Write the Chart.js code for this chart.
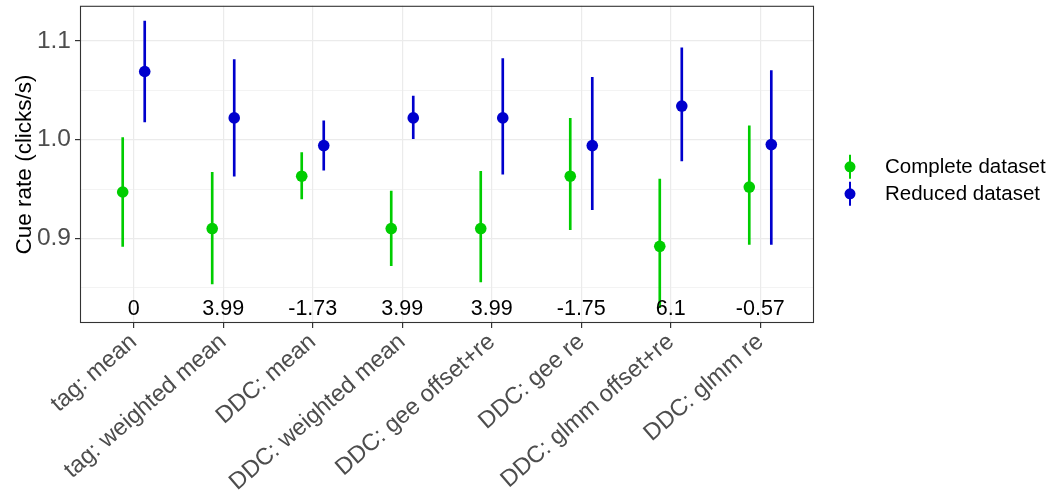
<!DOCTYPE html>
<html><head><meta charset="utf-8">
<script src="https://cdn.jsdelivr.net/npm/chart.js@4/dist/chart.umd.min.js"></script>
<style>html,body{margin:0;padding:0;background:#fff}#wrap{width:1058px;height:490px}</style>
</head><body><div id="wrap"><canvas id="c" width="1058" height="490"></canvas></div>
<script>
const categories = ["tag: mean","tag: weighted mean","DDC: mean","DDC: weighted mean","DDC: gee offset+re","DDC: gee re","DDC: glmm offset+re","DDC: glmm re"];
const diffLabels = ["0","3.99","-1.73","3.99","3.99","-1.75","6.1","-0.57"];
const seriesNames = ["Complete dataset","Reduced dataset"];
const completeMean = [0.947,0.910,0.963,0.910,0.910,0.963,0.892,0.952];
const completeLow  = [0.892,0.854,0.940,0.8725,0.856,0.909,0.830,0.894];
const completeHigh = [1.002,0.967,0.987,0.948,0.968,1.0215,0.960,1.014];
const reducedMean  = [1.069,1.022,0.994,1.022,1.022,0.994,1.034,0.995];
const reducedLow   = [1.018,0.963,0.969,1.001,0.965,0.929,0.9785,0.894];
const reducedHigh  = [1.120,1.081,1.019,1.044,1.082,1.063,1.093,1.070];
const yMajorTicks = [0.9,1.0,1.1];
const yMinorTicks = [0.85,0.95,1.05];
const yTickLabels = ["0.9","1.0","1.1"];
const labelY = 0.828;
const yMin = 0.8144, yMax = 1.1355;
const xMin = -0.6, xMax = 7.6;
const dodge = 0.123;

const GREEN = '#00CD00', BLUE = '#0000CD';
const FONT = '"Liberation Sans", Arial, Helvetica, sans-serif';

function errData(lo, hi, off){ return categories.map((c,i)=>({x:i+off, y:[lo[i],hi[i]]})); }
function ptData(m, off){ return categories.map((c,i)=>({x:i+off, y:m[i]})); }
function noPad(s){ s.paddingTop = 0; s.paddingBottom = 0; s.paddingLeft = 0; s.paddingRight = 0; }

const overlay = {
  id:'overlay',
  afterDatasetsDraw(chart){
    const {ctx, chartArea:a, scales:{x,y}} = chart;
    ctx.save();
    ctx.font = '21.5px ' + FONT;
    ctx.fillStyle = '#000'; ctx.textAlign = 'center'; ctx.textBaseline = 'middle';
    diffLabels.forEach((t,i)=>ctx.fillText(t, x.getPixelForValue(i), y.getPixelForValue(labelY)));
    ctx.strokeStyle = '#333333'; ctx.lineWidth = 1.1;
    ctx.strokeRect(a.left+0.5, a.top+0.5, a.width-1, a.height-1);
    // legend
    const items = [{t:seriesNames[0], c:GREEN},{t:seriesNames[1], c:BLUE}];
    ctx.font = '20.5px ' + FONT; ctx.textAlign = 'left';
    items.forEach((it,k)=>{
      const cy = a.top + 161 + k*27, gx = a.right + 36;
      ctx.strokeStyle = it.c; ctx.lineWidth = 2;
      ctx.beginPath(); ctx.moveTo(gx, cy-12); ctx.lineTo(gx, cy+12); ctx.stroke();
      ctx.fillStyle = it.c; ctx.beginPath(); ctx.arc(gx, cy, 5.5, 0, Math.PI*2); ctx.fill();
      ctx.fillStyle = '#000'; ctx.fillText(it.t, a.right + 71, cy+1);
    });
    ctx.restore();
  }
};

new Chart(document.getElementById('c'), {
  type: 'scatter',
  data: {
    datasets: [
      {type:'scatter', label:seriesNames[0], data:ptData(completeMean,-dodge), backgroundColor:GREEN, borderWidth:0, pointRadius:5.8, order:0},
      {type:'scatter', label:seriesNames[1], data:ptData(reducedMean,dodge), backgroundColor:BLUE, borderWidth:0, pointRadius:5.8, order:0},
      {type:'bar', label:seriesNames[0]+' CI', data:errData(completeLow,completeHigh,-dodge), backgroundColor:GREEN, barThickness:2, grouped:false, order:1},
      {type:'bar', label:seriesNames[1]+' CI', data:errData(reducedLow,reducedHigh,dodge), backgroundColor:BLUE, barThickness:2, grouped:false, order:1}
    ]
  },
  options: {
    responsive:false, animation:false, devicePixelRatio:1,
    layout:{padding:{left:0, top:4, right:244, bottom:0}},
    plugins:{legend:{display:false}, tooltip:{enabled:false}},
    scales:{
      x:{type:'linear', min:xMin, max:xMax, offset:false,
        afterBuildTicks:(s)=>{ s.ticks = categories.map((c,i)=>({value:i})); },
        afterFit:(s)=>{ s.height = 167; noPad(s); },
        ticks:{autoSkip:false, minRotation:41, maxRotation:41, padding:0, color:'#4D4D4D',
          font:{family:FONT, size:23.6}, callback:(v)=>categories[v]},
        grid:{offset:false, color:'#EBEBEB', lineWidth:1.2, tickColor:'#333333', tickLength:5},
        border:{display:false}
      },
      y:{type:'linear', min:yMin, max:yMax,
        afterBuildTicks:(s)=>{ s.ticks = [...yMinorTicks, ...yMajorTicks].sort((p,q)=>p-q).map(v=>({value:v})); },
        afterFit:(s)=>{ s.width = 80; noPad(s); },
        ticks:{padding:4, color:'#4D4D4D', font:{family:FONT, size:24.5},
          callback:(v)=>{ const k = yMajorTicks.findIndex(t=>Math.abs(t-v)<1e-6); return k>=0 ? yTickLabels[k] : ''; }},
        grid:{color:'#EBEBEB',
          lineWidth:(c)=> yMajorTicks.some(t=>Math.abs(t-c.tick.value)<1e-6) ? 1.2 : 0.6,
          tickColor:(c)=> yMajorTicks.some(t=>Math.abs(t-c.tick.value)<1e-6) ? '#333333' : 'rgba(0,0,0,0)',
          tickLength:5},
        border:{display:false},
        title:{display:true, text:'Cue rate (clicks/s)', color:'#000', font:{family:FONT, size:22.5}, padding:{top:11, bottom:0}}
      }
    }
  },
  plugins:[overlay]
});
</script></body></html>
